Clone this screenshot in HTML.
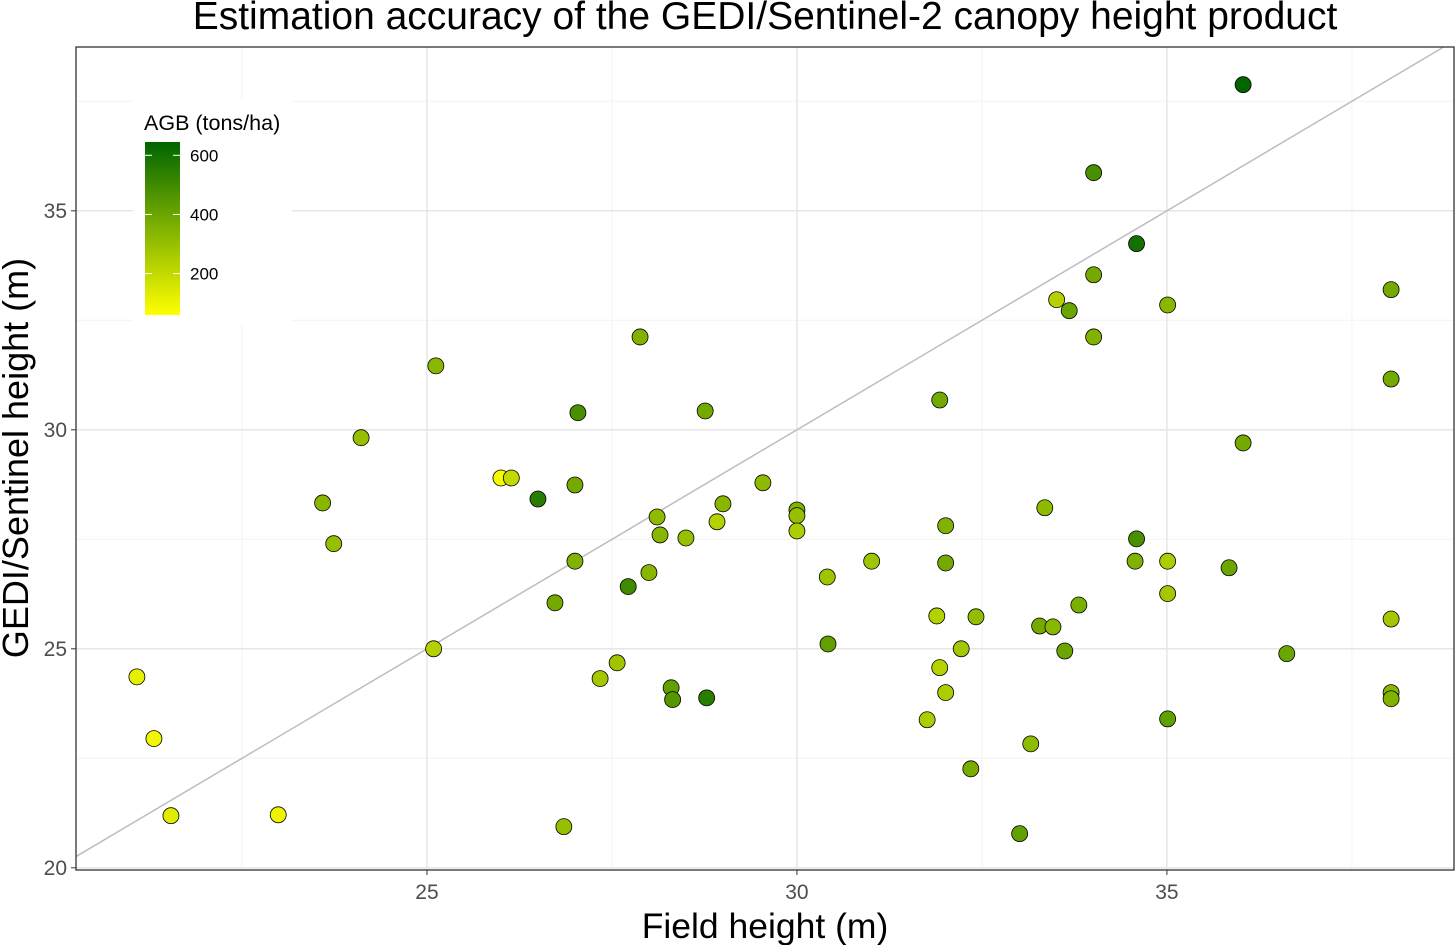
<!DOCTYPE html>
<html><head><meta charset="utf-8"><style>
body{margin:0;background:#fff;width:1455px;height:945px;overflow:hidden;font-family:"Liberation Sans",sans-serif}
</style></head><body>
<svg id="chart" width="1455" height="945" xmlns="http://www.w3.org/2000/svg" font-family="Liberation Sans, sans-serif"></svg>
<script>
const fieldHeight=[21.08,21.31,21.54,22.99,23.59,23.74,24.11,25.12,25.09,26.0,26.14,26.5,26.73,26.85,27.0,27.04,27.0,27.34,27.57,27.72,27.88,28.0,28.11,28.15,28.30,28.32,28.50,28.76,28.78,28.92,29.0,29.54,30.0,30.0,30.0,30.41,30.42,31.01,31.76,31.89,31.93,31.93,32.01,32.01,32.01,32.22,32.35,32.42,33.01,33.16,33.28,33.35,33.46,33.51,33.62,33.68,33.81,34.01,34.01,34.01,34.57,34.59,34.59,35.01,35.01,35.01,35.01,35.84,36.03,36.03,36.62,38.03,38.03,38.03,38.03,38.03];
const gediHeight=[24.36,22.95,21.19,21.21,28.33,27.40,29.82,31.46,25.0,28.90,28.90,28.42,26.05,20.94,28.74,30.39,27.0,24.32,24.68,26.42,32.12,26.74,28.01,27.60,24.11,23.84,27.53,30.43,23.88,27.90,28.31,28.79,28.17,28.04,27.69,26.64,25.11,27.0,23.38,25.75,30.68,24.57,27.81,24.0,26.96,25.0,22.26,25.73,20.78,22.83,25.52,28.22,25.50,32.97,24.95,32.72,26.0,35.87,33.54,32.12,27.0,27.51,34.25,27.0,26.26,32.85,23.40,26.85,37.88,29.70,24.89,33.20,31.16,25.68,24.0,23.86];
const agb=[120,90,130,100,330,300,300,330,230,80,200,550,380,300,380,480,350,270,280,500,350,330,320,330,420,450,300,380,550,230,330,320,350,300,250,280,420,280,250,230,380,230,350,250,380,270,370,310,420,320,380,320,330,230,400,400,360,480,380,350,350,480,600,250,270,330,420,400,640,380,400,380,380,270,330,350];
const xTicks=[25,30,35], yTicks=[20,25,30,35], legendTicks=[200,400,600];

const NS="http://www.w3.org/2000/svg";
const svg=document.getElementById('chart');
const L=76,R=1454,T=47,B=870;
const X0=20.257,X1=38.88,Y0=19.95,Y1=38.74;
const sx=v=>L+(v-X0)/(X1-X0)*(R-L);
const sy=v=>B-(v-Y0)/(Y1-Y0)*(B-T);
function el(tag,attrs,parent){const e=document.createElementNS(NS,tag);for(const k in attrs)e.setAttribute(k,attrs[k]);(parent||svg).appendChild(e);return e;}
const AMIN=60,AMAX=645;
function col(a){let t=(a-AMIN)/(AMAX-AMIN);t=Math.max(0,Math.min(1,t));
 const r=Math.round(255*(1-t)),g=Math.round(255-155*t);return `rgb(${r},${g},0)`;}

const grid=el('g',{});


[22.5,27.5,32.5,37.5].forEach(v=>{el('line',{x1:sx(v),x2:sx(v),y1:T,y2:B,stroke:'#f3f3f3','stroke-width':1},grid);
 el('line',{x1:L,x2:R,y1:sy(v),y2:sy(v),stroke:'#f3f3f3','stroke-width':1},grid);});
xTicks.forEach(v=>el('line',{x1:sx(v),x2:sx(v),y1:T,y2:B,stroke:'#e6e6e6','stroke-width':1.5},grid));
yTicks.forEach(v=>el('line',{x1:L,x2:R,y1:sy(v),y2:sy(v),stroke:'#e6e6e6','stroke-width':1.5},grid));

const x0=Math.max(X0,Y0), x1=Math.min(X1,Y1);
const ref=el('line',{x1:sx(x0),y1:sy(x0),x2:sx(x1),y2:sy(x1),stroke:'#bdbdbd','stroke-width':1.5});



fieldHeight.forEach((v,i)=>{
 const c=el('circle',{cx:sx(v),cy:sy(gediHeight[i]),r:8,fill:col(agb[i]),stroke:'#000','stroke-width':0.8});
 
 
});

const bd=el('rect',{x:L,y:T,width:R-L,height:B-T,fill:'none',stroke:'#333','stroke-width':1.3});



xTicks.forEach(v=>{el('line',{x1:sx(v),x2:sx(v),y1:B,y2:B+5,stroke:'#333'});
 const t=el('text',{x:sx(v),y:B+29,'font-size':21,fill:'#4d4d4d','text-anchor':'middle'});t.textContent=v;
 
 });
yTicks.forEach(v=>{el('line',{x1:L-5,x2:L,y1:sy(v),y2:sy(v),stroke:'#333'});
 const t=el('text',{x:L-9,y:sy(v)+7,'font-size':21,fill:'#4d4d4d','text-anchor':'end'});t.textContent=v;
 
 });

const lg=el('g',{});


el('rect',{x:133,y:100,width:159,height:225,fill:'#fff'},lg);
const lt=el('text',{x:144,y:130,'font-size':21.5,fill:'#000'},lg);lt.textContent='AGB (tons/ha)';
const defs=el('defs',{});
const gr=el('linearGradient',{id:'agbg',x1:0,y1:1,x2:0,y2:0},defs);
for(let i=0;i<=10;i++){el('stop',{offset:i/10,'stop-color':col(AMIN+(AMAX-AMIN)*i/10)},gr);}
const BT=142,BB=315;
el('rect',{x:145,y:BT,width:35,height:BB-BT,fill:'url(#agbg)'},lg);
const ly=a=>BB-(a-AMIN)/(AMAX-AMIN)*(BB-BT);
legendTicks.forEach(a=>{el('line',{x1:145,x2:152,y1:ly(a),y2:ly(a),stroke:'#fff'},lg);
 el('line',{x1:173,x2:180,y1:ly(a),y2:ly(a),stroke:'#fff'},lg);
 const t=el('text',{x:190,y:ly(a)+6,'font-size':17,fill:'#000'},lg);t.textContent=a;});

const tt=el('text',{x:765,y:29,'font-size':39,'text-anchor':'middle',fill:'#000'});tt.textContent='Estimation accuracy of the GEDI/Sentinel-2 canopy height product';


const xt=el('text',{x:765,y:938,'font-size':35.5,'text-anchor':'middle',fill:'#000'});xt.textContent='Field height (m)';


const yt=el('text',{x:0,y:0,'font-size':36,'text-anchor':'middle',fill:'#000',transform:'translate(28,458) rotate(-90)'});yt.textContent='GEDI/Sentinel height (m)';


</script>
</body></html>
